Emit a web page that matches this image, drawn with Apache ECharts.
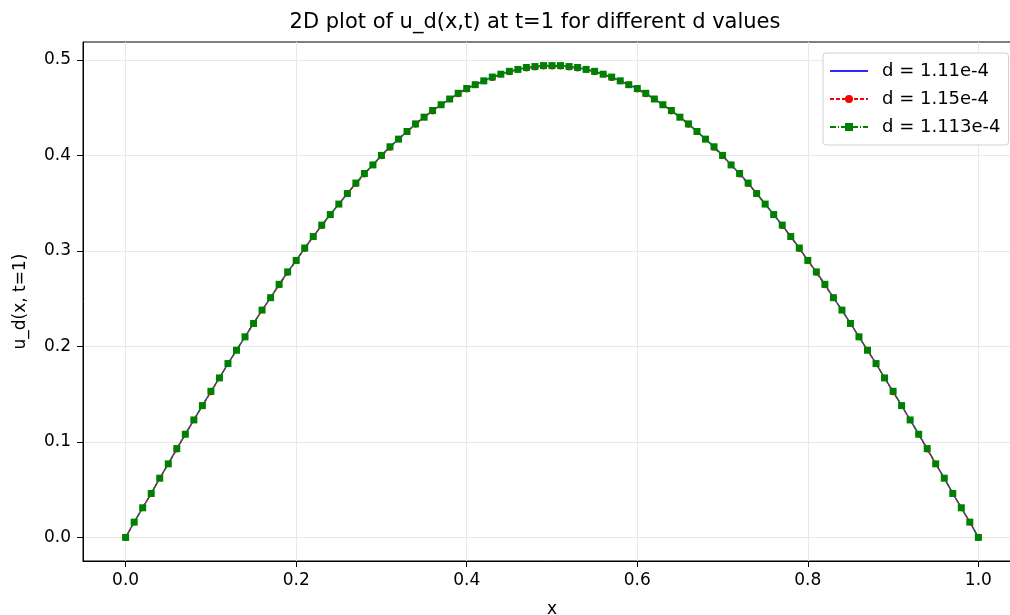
<!DOCTYPE html>
<html>
<head>
<meta charset="utf-8">
<script src="https://cdn.jsdelivr.net/npm/echarts@6/dist/echarts.min.js"></script>
<style>
  html, body { margin: 0; padding: 0; background: #fff; }
  #main { width: 1010px; height: 615px; }
</style>
</head>
<body>
<div id="main"></div>
<script>
// x positions (0 .. 1, step 0.01)
const xs = [
  0, 0.01, 0.02, 0.03, 0.04, 0.05, 0.06, 0.07, 0.08, 0.09,
  0.1, 0.11, 0.12, 0.13, 0.14, 0.15, 0.16, 0.17, 0.18, 0.19,
  0.2, 0.21, 0.22, 0.23, 0.24, 0.25, 0.26, 0.27, 0.28, 0.29,
  0.3, 0.31, 0.32, 0.33, 0.34, 0.35, 0.36, 0.37, 0.38, 0.39,
  0.4, 0.41, 0.42, 0.43, 0.44, 0.45, 0.46, 0.47, 0.48, 0.49,
  0.5,
  0.51, 0.52, 0.53, 0.54, 0.55, 0.56, 0.57, 0.58, 0.59, 0.6,
  0.61, 0.62, 0.63, 0.64, 0.65, 0.66, 0.67, 0.68, 0.69, 0.7,
  0.71, 0.72, 0.73, 0.74, 0.75, 0.76, 0.77, 0.78, 0.79, 0.8,
  0.81, 0.82, 0.83, 0.84, 0.85, 0.86, 0.87, 0.88, 0.89, 0.9,
  0.91, 0.92, 0.93, 0.94, 0.95, 0.96, 0.97, 0.98, 0.99, 1
];

// u_d(x, t=1) (the three d values overlap)
const u_d111 = [
  0, 0.016, 0.031, 0.046, 0.062, 0.077, 0.093, 0.108, 0.123, 0.138,
  0.153, 0.167, 0.182, 0.196, 0.210, 0.224, 0.238, 0.251, 0.265, 0.278,
  0.290, 0.303, 0.315, 0.327, 0.338, 0.349, 0.360, 0.371, 0.381, 0.390,
  0.400, 0.409, 0.417, 0.425, 0.433, 0.440, 0.447, 0.453, 0.459, 0.465,
  0.470, 0.474, 0.478, 0.482, 0.485, 0.488, 0.490, 0.492, 0.493, 0.494,
  0.494,
  0.494, 0.493, 0.492, 0.490, 0.488, 0.485, 0.482, 0.478, 0.474, 0.470,
  0.465, 0.459, 0.453, 0.447, 0.440, 0.433, 0.425, 0.417, 0.409, 0.400,
  0.390, 0.381, 0.371, 0.360, 0.349, 0.338, 0.327, 0.315, 0.303, 0.290,
  0.278, 0.265, 0.251, 0.238, 0.224, 0.210, 0.196, 0.182, 0.167, 0.153,
  0.138, 0.123, 0.108, 0.093, 0.077, 0.062, 0.046, 0.031, 0.016, 0
];
const u_d115 = [
  0, 0.016, 0.031, 0.046, 0.062, 0.077, 0.092, 0.108, 0.123, 0.138,
  0.152, 0.167, 0.182, 0.196, 0.210, 0.224, 0.238, 0.251, 0.264, 0.277,
  0.290, 0.302, 0.315, 0.326, 0.338, 0.349, 0.360, 0.370, 0.380, 0.390,
  0.399, 0.408, 0.417, 0.425, 0.432, 0.440, 0.446, 0.453, 0.459, 0.464,
  0.469, 0.474, 0.478, 0.481, 0.485, 0.487, 0.490, 0.491, 0.492, 0.493,
  0.493,
  0.493, 0.492, 0.491, 0.490, 0.487, 0.485, 0.481, 0.478, 0.474, 0.469,
  0.464, 0.459, 0.453, 0.446, 0.440, 0.432, 0.425, 0.417, 0.408, 0.399,
  0.390, 0.380, 0.370, 0.360, 0.349, 0.338, 0.326, 0.315, 0.302, 0.290,
  0.277, 0.264, 0.251, 0.238, 0.224, 0.210, 0.196, 0.182, 0.167, 0.152,
  0.138, 0.123, 0.108, 0.092, 0.077, 0.062, 0.046, 0.031, 0.016, 0
];
const u_d1113 = u_d111.slice();

const xTicks = [0, 0.2, 0.4, 0.6, 0.8, 1.0];
const yTicks = [0, 0.1, 0.2, 0.3, 0.4, 0.5];

const seriesNames = ['d = 1.11e-4', 'd = 1.15e-4', 'd = 1.113e-4'];

const pairs = (ys) => xs.map((x, i) => [x, ys[i]]);

const FONT = 'DejaVu Sans';
const chart = echarts.init(document.getElementById('main'), null, { renderer: 'canvas' });

const axisCommon = {
  type: 'value',
  axisLine: { show: true, onZero: false, lineStyle: { color: '#000', width: 1 } },
  axisTick: { show: true, length: 6, inside: false, lineStyle: { color: '#000', width: 1 } },
  splitLine: { show: true, lineStyle: { color: '#e8e8e8', width: 1 } },
  nameTextStyle: { fontFamily: FONT, fontSize: 17, color: '#000' }
};

chart.setOption({
  animation: false,
  backgroundColor: '#fff',
  title: {
    text: '2D plot of u_d(x,t) at t=1 for different d values',
    left: 530,
    textAlign: 'center',
    top: 7,
    textStyle: { fontFamily: FONT, fontSize: 21, fontWeight: 'normal', color: '#000' }
  },
  grid: {
    left: 83, top: 42, width: 938, height: 519,
    outerBoundsMode: 'none',
    containLabel: false,
    show: true, borderColor: '#000', borderWidth: 1, backgroundColor: 'transparent'
  },
  legend: {
    left: 823, top: 53,
    orient: 'vertical',
    itemWidth: 38, itemHeight: 10, itemGap: 10,
    padding: [9, 8, 9, 6],
    backgroundColor: '#fff',
    borderColor: '#d0d0d0', borderWidth: 1, borderRadius: 3,
    textStyle: { fontFamily: FONT, fontSize: 18, color: '#000', padding: [0, 0, 0, 9] },
    data: [
      { name: seriesNames[0], icon: 'path://M0,0 H38 V2 H0 Z', itemStyle: { color: '#2b2bff' } },
      { name: seriesNames[1] },
      { name: seriesNames[2] }
    ]
  },
  xAxis: Object.assign({}, axisCommon, {
    min: -0.05, max: 1.05,
    name: 'x', nameLocation: 'middle', nameGap: 40,
    axisTick: Object.assign({}, axisCommon.axisTick, { customValues: xTicks }),
    axisLabel: {
      customValues: xTicks, margin: 11,
      fontFamily: FONT, fontSize: 17, color: '#000',
      formatter: (v) => v.toFixed(1)
    }
  }),
  yAxis: Object.assign({}, axisCommon, {
    min: -0.0247, max: 0.5187,
    name: 'u_d(x, t=1)', nameLocation: 'middle', nameGap: 54, nameRotate: 90,
    axisTick: Object.assign({}, axisCommon.axisTick, { customValues: yTicks }),
    axisLabel: {
      customValues: yTicks, margin: 12,
      fontFamily: FONT, fontSize: 17, color: '#000',
      formatter: (v) => v.toFixed(1)
    }
  }),
  series: [
    {
      name: seriesNames[0],
      type: 'line',
      data: pairs(u_d111),
      symbol: 'none',
      lineStyle: { color: '#3333ff', width: 1.5 },
      itemStyle: { color: '#3333ff' },
      z: 2
    },
    {
      name: seriesNames[1],
      type: 'line',
      data: pairs(u_d115),
      symbol: 'circle', symbolSize: 6, showSymbol: true,
      lineStyle: { color: '#ff0000', width: 1.2, type: [4, 2] },
      itemStyle: { color: '#ff0000' },
      z: 3
    },
    {
      name: seriesNames[2],
      type: 'line',
      data: pairs(u_d1113),
      symbol: 'rect', symbolSize: 7, showSymbol: true,
      lineStyle: { color: '#008000', width: 1.2, type: [6, 2, 1, 2] },
      itemStyle: { color: '#008000' },
      z: 4
    }
  ]
});
</script>
</body>
</html>
